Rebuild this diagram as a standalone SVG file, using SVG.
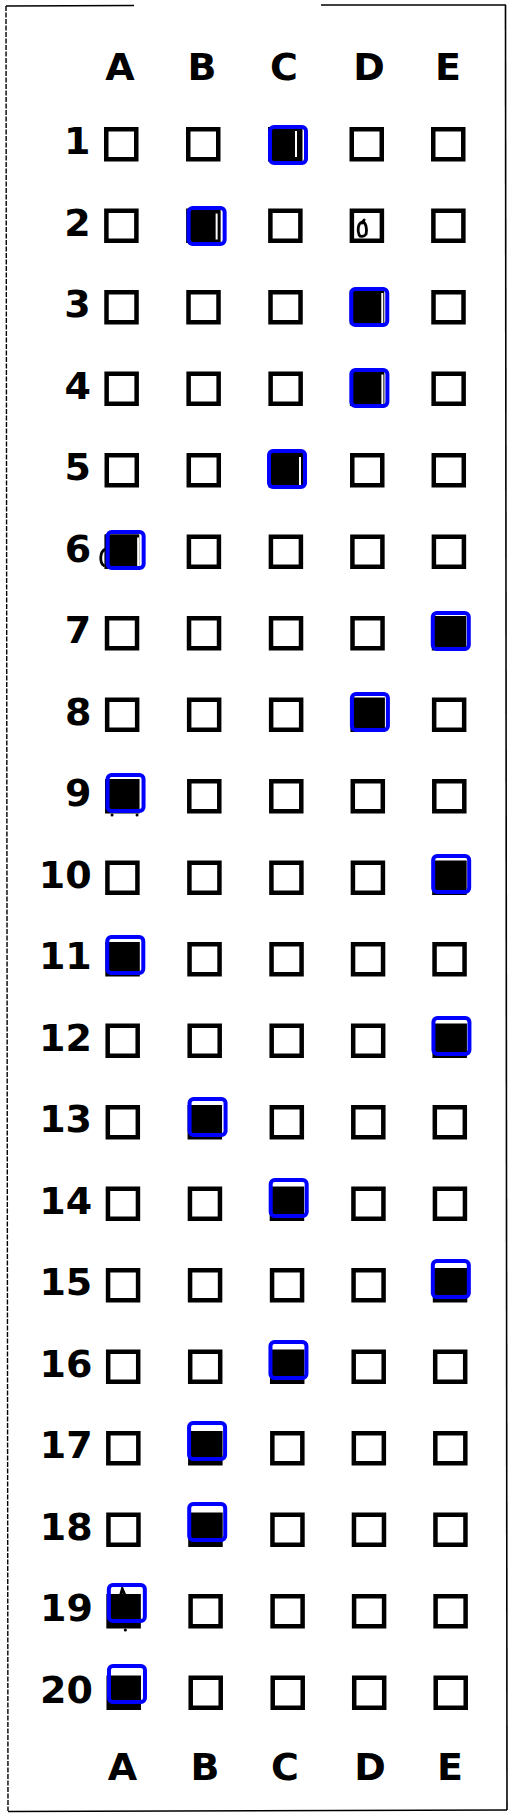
<svg xmlns="http://www.w3.org/2000/svg" width="513" height="1819" viewBox="0 0 513 1819">
<style>
.bg{fill:#ffffff}
.frame{fill:none;stroke:#000;stroke-width:1.6}
.frameL{fill:none;stroke:#000;stroke-width:1.4;stroke-dasharray:5 1.5}
.box{fill:none;stroke:#000;stroke-width:4.5}
.fill{fill:#000}
.sel{fill:none;stroke:#0000ff;stroke-width:4}
.gap{stroke:#fff;stroke-width:2}
.mark{fill:none;stroke:#000;stroke-width:2.8;stroke-linecap:round}
.lbl{font-family:"DejaVu Sans","Liberation Sans",sans-serif;font-weight:bold;font-size:38px;fill:#000;text-anchor:middle}
.num{font-family:"DejaVu Sans","Liberation Sans",sans-serif;font-weight:bold;font-size:38px;fill:#000;text-anchor:end}
</style>
<defs>
<rect id="b" x="2.25" y="2.25" width="30" height="30" class="box"/>
<rect id="f" x="0" y="0" width="34.5" height="34.5" class="fill"/>
<rect id="s" x="2" y="2" width="36" height="36" rx="4" class="sel"/>
</defs>
<rect class="bg" x="0" y="0" width="513" height="1819"/>
<g id="frame">
<path class="frame" d="M6,6 L134,5.5"/>
<path class="frame" d="M321,5 L506,5"/>
<path class="frame" d="M505.5,5 L507,1810"/>
<path class="frame" d="M8,1811.5 L507,1810"/>
<path class="frameL" d="M6,6 L8,1811"/>
</g>
<g id="header">
<text class="lbl" x="120" y="80">A</text>
<text class="lbl" x="202" y="80">B</text>
<text class="lbl" x="284" y="80">C</text>
<text class="lbl" x="369" y="80">D</text>
<text class="lbl" x="448" y="80">E</text>
</g>
<g id="footer">
<text class="lbl" x="122.5" y="1780">A</text>
<text class="lbl" x="205" y="1780">B</text>
<text class="lbl" x="285" y="1780">C</text>
<text class="lbl" x="370" y="1780">D</text>
<text class="lbl" x="450" y="1780">E</text>
</g>

<g id="q1" transform="translate(0,127)">
<text class="num" x="90.5" y="27">1</text>
<use href="#b" x="104"/><use href="#b" x="186"/><use href="#f" x="268"/><use href="#b" x="349.5"/><use href="#b" x="431"/>
<line class="gap" x1="296" y1="4" x2="296" y2="30"/>
<use href="#s" x="268" y="-2"/>
</g>
<g id="q2" transform="translate(0.13,208.5)">
<text class="num" x="90.5" y="27">2</text>
<use href="#b" x="104"/><use href="#f" x="186"/><use href="#b" x="268"/><use href="#b" x="349.5"/><use href="#b" x="431"/>
<line class="gap" x1="216.5" y1="5" x2="216.5" y2="31"/>
<path class="mark" d="M359,26.5 C357,21.5 358,14.5 362,13.5 C366,13.5 367,20.5 366,25.5 C364,28.5 360,28.5 359,26.5 M362,14.5 L364,11.5"/>
<use href="#s" x="186.5" y="-2.5"/>
</g>
<g id="q3" transform="translate(0.26,290)">
<text class="num" x="90.5" y="27">3</text>
<use href="#b" x="104"/><use href="#b" x="186"/><use href="#b" x="268"/><use href="#f" x="349.5"/><use href="#b" x="431"/>
<line class="gap" x1="382" y1="3" x2="382" y2="33"/>
<use href="#s" x="349" y="-3"/>
</g>
<g id="q4" transform="translate(0.39,371.5)">
<text class="num" x="90.5" y="27">4</text>
<use href="#b" x="104"/><use href="#b" x="186"/><use href="#b" x="268"/><use href="#f" x="349.5"/><use href="#b" x="431"/>
<line class="gap" x1="382" y1="3" x2="382" y2="33"/>
<use href="#s" x="349" y="-3.5"/>
</g>
<g id="q5" transform="translate(0.52,453)">
<text class="num" x="90.5" y="27">5</text>
<use href="#b" x="104"/><use href="#b" x="186"/><use href="#f" x="268"/><use href="#b" x="349.5"/><use href="#b" x="431"/>
<line class="gap" x1="299.5" y1="4" x2="299.5" y2="32"/>
<use href="#s" x="266.5" y="-4"/>
</g>
<g id="q6" transform="translate(0.65,534.5)">
<text class="num" x="90.5" y="27">6</text>
<use href="#b" x="104"/><use href="#f" x="104"/><use href="#b" x="186"/><use href="#b" x="268"/><use href="#b" x="349.5"/><use href="#b" x="431"/>
<line class="gap" x1="137.5" y1="3" x2="137.5" y2="32"/>
<path class="mark" d="M104,15 C99,18 99,28 103,31"/>
<use href="#s" x="105" y="-4.5"/>
</g>
<g id="q7" transform="translate(0.78,616)">
<text class="num" x="90.5" y="27">7</text>
<use href="#b" x="104"/><use href="#b" x="186"/><use href="#b" x="268"/><use href="#b" x="349.5"/><use href="#f" x="431"/>
<use href="#s" x="430" y="-5"/>
</g>
<g id="q8" transform="translate(0.91,697.5)">
<text class="num" x="90.5" y="27">8</text>
<use href="#b" x="104"/><use href="#b" x="186"/><use href="#b" x="268"/><use href="#f" x="349.5"/><use href="#b" x="431"/>
<use href="#s" x="349" y="-5.5"/>
</g>
<g id="q9" transform="translate(1.04,779)">
<text class="num" x="90.5" y="27">9</text>
<use href="#f" x="104"/><use href="#b" x="186"/><use href="#b" x="268"/><use href="#b" x="349.5"/><use href="#b" x="431"/>
<circle cx="111" cy="36" r="1.5" class="fill"/><circle cx="136" cy="36" r="1.5" class="fill"/>
<use href="#s" x="104.5" y="-6"/>
</g>
<g id="q10" transform="translate(1.17,860.5)">
<text class="num" x="90.5" y="27">10</text>
<use href="#b" x="104"/><use href="#b" x="186"/><use href="#b" x="268"/><use href="#b" x="349.5"/><use href="#f" x="431"/>
<use href="#s" x="430" y="-6.5"/>
</g>
<g id="q11" transform="translate(1.3,942)">
<text class="num" x="90.5" y="27">11</text>
<use href="#f" x="104"/><use href="#b" x="186"/><use href="#b" x="268"/><use href="#b" x="349.5"/><use href="#b" x="431"/>
<use href="#s" x="104" y="-7"/>
</g>
<g id="q12" transform="translate(1.43,1023.5)">
<text class="num" x="90.5" y="27">12</text>
<use href="#b" x="104"/><use href="#b" x="186"/><use href="#b" x="268"/><use href="#b" x="349.5"/><use href="#f" x="431"/>
<use href="#s" x="430" y="-7.5"/>
</g>
<g id="q13" transform="translate(1.56,1105)">
<text class="num" x="90.5" y="27">13</text>
<use href="#b" x="104"/><use href="#f" x="186"/><use href="#b" x="268"/><use href="#b" x="349.5"/><use href="#b" x="431"/>
<use href="#s" x="186" y="-8"/>
</g>
<g id="q14" transform="translate(1.69,1186.5)">
<text class="num" x="90.5" y="27">14</text>
<use href="#b" x="104"/><use href="#b" x="186"/><use href="#f" x="268"/><use href="#b" x="349.5"/><use href="#b" x="431"/>
<use href="#s" x="267" y="-8.5"/>
</g>
<g id="q15" transform="translate(1.82,1268)">
<text class="num" x="90.5" y="27">15</text>
<use href="#b" x="104"/><use href="#b" x="186"/><use href="#b" x="268"/><use href="#b" x="349.5"/><use href="#f" x="431"/>
<use href="#s" x="429" y="-9"/>
</g>
<g id="q16" transform="translate(1.95,1349.5)">
<text class="num" x="90.5" y="27">16</text>
<use href="#b" x="104"/><use href="#b" x="186"/><use href="#f" x="268"/><use href="#b" x="349.5"/><use href="#b" x="431"/>
<use href="#s" x="266.5" y="-9.5"/>
</g>
<g id="q17" transform="translate(2.08,1431)">
<text class="num" x="90.5" y="27">17</text>
<use href="#b" x="104"/><use href="#f" x="186"/><use href="#b" x="268"/><use href="#b" x="349.5"/><use href="#b" x="431"/>
<use href="#s" x="185" y="-10"/>
</g>
<g id="q18" transform="translate(2.21,1512.5)">
<text class="num" x="90.5" y="27">18</text>
<use href="#b" x="104"/><use href="#f" x="186"/><use href="#b" x="268"/><use href="#b" x="349.5"/><use href="#b" x="431"/>
<use href="#s" x="185" y="-10.5"/>
</g>
<g id="q19" transform="translate(2.34,1594)">
<text class="num" x="90.5" y="27">19</text>
<use href="#f" x="104"/><use href="#b" x="186"/><use href="#b" x="268"/><use href="#b" x="349.5"/><use href="#b" x="431"/>
<path class="mark" d="M118,2 L120,-5 L123,2"/>
<circle cx="123" cy="36" r="1.6" class="fill"/>
<use href="#s" x="104.5" y="-11"/>
</g>
<g id="q20" transform="translate(2.47,1675.5)">
<text class="num" x="90.5" y="27">20</text>
<use href="#f" x="104"/><use href="#b" x="186"/><use href="#b" x="268"/><use href="#b" x="349.5"/><use href="#b" x="431"/>
<use href="#s" x="104.5" y="-11.5"/>
</g>
</svg>
